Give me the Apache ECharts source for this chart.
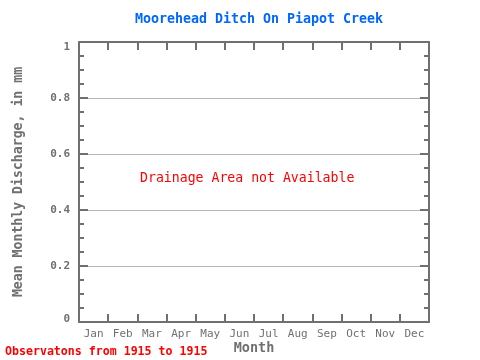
<!DOCTYPE html>
<html>
<head>
<meta charset="utf-8">
<script src="https://cdn.jsdelivr.net/npm/echarts@6/dist/echarts.min.js"></script>
<style>html,body{margin:0;padding:0;background:#fff}#c{width:480px;height:360px}</style>
</head>
<body>
<div id="c"></div>
<script>
var months = ['Jan','Feb','Mar','Apr','May','Jun','Jul','Aug','Sep','Oct','Nov','Dec'];
var discharge = [null,null,null,null,null,null,null,null,null,null,null,null];
var yTicks = [0, 0.2, 0.4, 0.6, 0.8, 1];

var FONT = '"DejaVu Sans Mono", monospace';
var GRAY = '#707070';
var chart = echarts.init(document.getElementById('c'), null, {renderer: 'canvas'});
var axisLineStyle = {show: true, onZero: false, lineStyle: {color: GRAY, width: 2}};
chart.setOption({
  animation: false,
  backgroundColor: '#fff',
  title: {
    text: 'Moorehead Ditch On Piapot Creek',
    left: 254, top: 8, textAlign: 'center',
    textStyle: {fontFamily: FONT, fontSize: 13.3, fontWeight: 'bold', color: '#0066FF'}
  },
  grid: {left: 79, right: 51, top: 42, bottom: 38, containLabel: false, outerBoundsMode: 'none'},
  xAxis: [{
    type: 'category', data: months, boundaryGap: true, position: 'bottom',
    axisLine: axisLineStyle,
    axisTick: {show: true, inside: true, length: 8, interval: 0, lineStyle: {color: GRAY, width: 2}},
    axisLabel: {fontFamily: FONT, fontSize: 11, color: GRAY, margin: 7, interval: 0},
    name: 'Month', nameLocation: 'middle', nameGap: 19, nameMoveOverlap: false,
    nameTextStyle: {fontFamily: FONT, fontSize: 13.5, fontWeight: 'bold', color: GRAY},
    splitLine: {show: false}
  }, {
    type: 'category', data: months, boundaryGap: true, position: 'top',
    axisLine: axisLineStyle,
    axisTick: {show: true, inside: true, length: 8, interval: 0, lineStyle: {color: GRAY, width: 2}},
    axisLabel: {show: false}, splitLine: {show: false}
  }],
  yAxis: [{
    type: 'value', min: 0, max: 1, interval: 0.2, position: 'left',
    axisLine: axisLineStyle,
    axisTick: {show: true, inside: true, length: 9, lineStyle: {color: GRAY, width: 2}},
    minorTick: {show: true, splitNumber: 4, length: 5, lineStyle: {color: GRAY, width: 2}},
    axisLabel: {
      fontFamily: FONT, fontSize: 11, fontWeight: 'bold', color: GRAY, margin: 9,
      formatter: function (v) {
        if (v === 0) return '{bot|0}';
        if (v === 1) return '{top|1}';
        return v.toFixed(1);
      },
      rich: {
        top: {fontFamily: FONT, fontSize: 11, fontWeight: 'bold', color: GRAY, padding: [10, 0, 0, 0]},
        bot: {fontFamily: FONT, fontSize: 11, fontWeight: 'bold', color: GRAY, padding: [0, 0, 6, 0]}
      }
    },
    splitLine: {show: true, lineStyle: {color: '#b4b4b4', width: 1}},
    name: 'Mean Monthly Discharge, in mm', nameLocation: 'middle', nameGap: 54, nameMoveOverlap: false,
    nameTextStyle: {fontFamily: FONT, fontSize: 13.2, fontWeight: 'bold', color: GRAY}
  }, {
    type: 'value', min: 0, max: 1, interval: 0.2, position: 'right',
    axisLine: axisLineStyle,
    axisTick: {show: true, inside: true, length: 9, lineStyle: {color: GRAY, width: 2}},
    minorTick: {show: true, splitNumber: 4, length: 5, lineStyle: {color: GRAY, width: 2}},
    axisLabel: {show: false}, splitLine: {show: false}
  }],
  graphic: [{
    type: 'text', left: 140, top: 172,
    style: {text: 'Drainage Area not Available', fill: '#ff0000', font: '13.2px ' + FONT}
  }, {
    type: 'text', left: 5, top: 346,
    style: {text: 'Observatons from 1915 to 1915', fill: '#ff0000', font: 'bold 11.6px ' + FONT}
  }],
  series: [{type: 'line', data: discharge, xAxisIndex: 0, yAxisIndex: 0, showSymbol: false}]
});
</script>
</body>
</html>
